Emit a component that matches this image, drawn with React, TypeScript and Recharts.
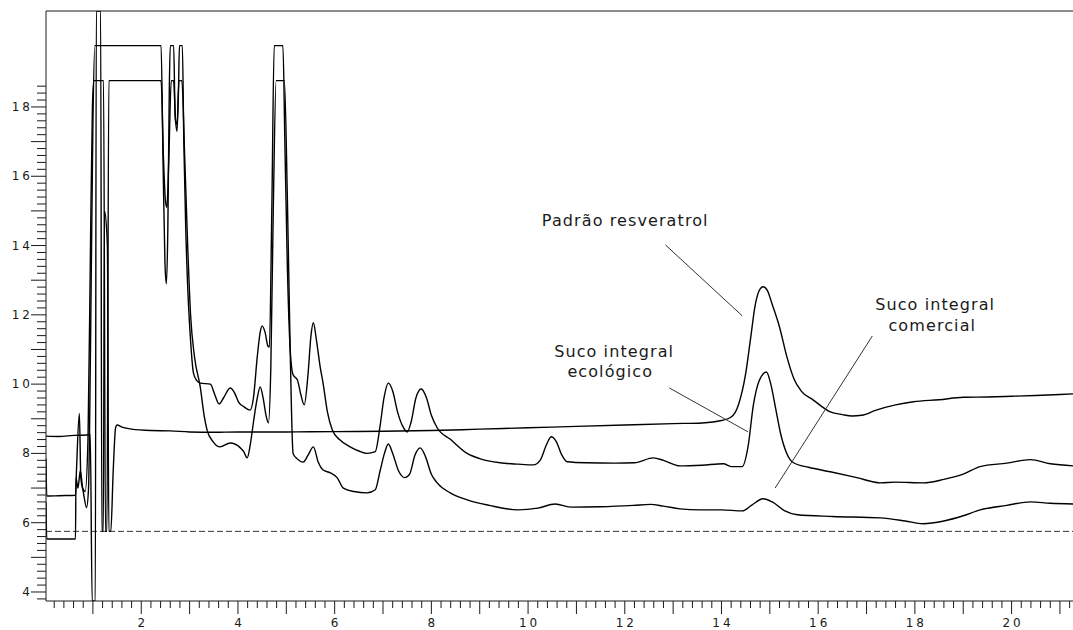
import { LineChart, Line, XAxis, YAxis, ReferenceLine, ReferenceDot } from "recharts"

// retention time (min) vs signal
const padrao: [number, number][] = [
    [0.03, 8.5], [0.3, 8.49], [0.6, 8.52], [0.9, 8.53], [0.945, 8.55],
    [0.985, 3.74], [1.05, 3.74], [1.07, 20.77], [1.16, 20.77], [1.185, 5.75],
    [1.215, 5.75], [1.24, 15.0], [1.3, 14.0], [1.33, 5.75], [1.37, 5.75],
    [1.42, 7.5], [1.47, 8.75], [1.5, 8.82], [1.6, 8.76], [1.8, 8.7],
    [2.2, 8.66], [2.6, 8.65], [3.0, 8.62], [3.5, 8.61], [4.0, 8.62],
    [5.0, 8.62], [6.0, 8.63], [7.0, 8.64], [8.0, 8.66], [9.0, 8.7],
    [10.0, 8.74], [11.0, 8.78], [12.0, 8.82], [13.0, 8.86], [13.6, 8.88],
    [14.0, 8.95], [14.2, 9.05], [14.35, 9.4], [14.5, 10.3], [14.6, 11.3],
    [14.7, 12.3], [14.8, 12.75], [14.86, 12.81], [14.95, 12.7], [15.05, 12.3],
    [15.2, 11.65], [15.35, 10.8], [15.5, 10.15], [15.65, 9.8], [15.9, 9.54],
    [16.25, 9.2], [16.5, 9.12], [16.7, 9.08], [16.9, 9.1], [17.2, 9.25],
    [17.6, 9.4], [17.97, 9.49], [18.5, 9.55], [19.0, 9.62], [19.5, 9.63],
    [20.0, 9.65], [20.5, 9.67], [21.0, 9.7], [21.27, 9.72],
]

const ecologico: [number, number][] = [
    [0.03, 7.85], [0.045, 6.77], [0.3, 6.78], [0.64, 6.79], [0.66, 7.5],
    [0.72, 9.15], [0.75, 7.3], [0.8, 6.9], [0.87, 6.44], [0.91, 7.0],
    [0.95, 11.0], [1.0, 17.5], [1.04, 19.77], [2.41, 19.77], [2.45, 16.5],
    [2.49, 13.5], [2.52, 12.9], [2.55, 14.5], [2.58, 18.5], [2.6, 19.77],
    [2.67, 19.77], [2.7, 17.8], [2.74, 17.3], [2.77, 18.5], [2.79, 19.77],
    [2.85, 19.77], [2.88, 17.0], [2.92, 14.5], [2.97, 12.5], [3.01, 11.48],
    [3.08, 10.32], [3.15, 10.1], [3.22, 10.03], [3.43, 10.0], [3.52, 9.7],
    [3.61, 9.43], [3.7, 9.6], [3.84, 9.89], [3.93, 9.75], [4.01, 9.49],
    [4.12, 9.35], [4.25, 9.25], [4.32, 9.6], [4.4, 10.8], [4.46, 11.5],
    [4.5, 11.68], [4.56, 11.5], [4.62, 11.1], [4.65, 11.07], [4.7, 15.0],
    [4.75, 19.77], [4.93, 19.77], [4.97, 17.0], [5.02, 13.5], [5.08, 11.0],
    [5.14, 10.27], [5.23, 10.12], [5.3, 9.7], [5.37, 9.4], [5.45, 10.3],
    [5.51, 11.4], [5.56, 11.77], [5.62, 11.3], [5.7, 10.5], [5.76, 10.03],
    [5.85, 9.2], [5.95, 8.68], [6.1, 8.4], [6.32, 8.19], [6.5, 8.07],
    [6.67, 8.0], [6.84, 8.05], [6.94, 8.8], [7.02, 9.6], [7.11, 10.03],
    [7.2, 9.8], [7.3, 9.2], [7.42, 8.75], [7.5, 8.62], [7.58, 8.9],
    [7.68, 9.6], [7.79, 9.86], [7.9, 9.6], [8.0, 9.1], [8.12, 8.74],
    [8.4, 8.4], [8.74, 8.0], [9.0, 7.85], [9.42, 7.73], [9.8, 7.69],
    [10.11, 7.67], [10.25, 7.8], [10.38, 8.25], [10.48, 8.48], [10.58, 8.35],
    [10.7, 7.95], [10.81, 7.76], [11.2, 7.73], [11.8, 7.72], [12.2, 7.73],
    [12.59, 7.87], [12.8, 7.8], [13.14, 7.64], [13.6, 7.66], [14.04, 7.7],
    [14.2, 7.62], [14.43, 7.62], [14.55, 8.2], [14.66, 9.4], [14.78, 10.1],
    [14.93, 10.35], [15.02, 10.0], [15.12, 9.3], [15.22, 8.59], [15.35, 8.0],
    [15.49, 7.73], [15.8, 7.6], [16.25, 7.47], [16.8, 7.3], [17.28, 7.15],
    [17.6, 7.17], [18.17, 7.15], [18.6, 7.25], [19.0, 7.4], [19.35, 7.62],
    [19.9, 7.72], [20.39, 7.82], [20.8, 7.7], [21.27, 7.64],
]

const comercial: [number, number][] = [
    [0.03, 6.6], [0.045, 5.53], [0.64, 5.53], [0.65, 7.3], [0.69, 7.0],
    [0.74, 7.5], [0.79, 7.0], [0.84, 6.9], [0.9, 8.5], [0.95, 14.0],
    [0.99, 18.0], [1.02, 18.76], [1.22, 18.76], [1.26, 5.75], [1.29, 5.75],
    [1.33, 18.76], [2.41, 18.76], [2.46, 16.5], [2.5, 15.3], [2.53, 15.1],
    [2.57, 16.5], [2.62, 18.76], [2.67, 18.76], [2.71, 17.6], [2.74, 17.5],
    [2.78, 18.76], [2.84, 18.76], [2.9, 16.5], [2.96, 14.0], [3.02, 12.0],
    [3.1, 10.8], [3.22, 9.92], [3.3, 9.1], [3.36, 8.68], [3.48, 8.35],
    [3.63, 8.19], [3.84, 8.3], [4.05, 8.16], [4.12, 8.05], [4.19, 7.87],
    [4.26, 8.3], [4.32, 8.9], [4.4, 9.6], [4.46, 9.92], [4.52, 9.6],
    [4.58, 9.1], [4.63, 8.88], [4.68, 10.5], [4.73, 15.0], [4.79, 18.76],
    [4.96, 18.76], [5.02, 15.5], [5.08, 11.0], [5.14, 8.0], [5.22, 7.85],
    [5.35, 7.75], [5.45, 7.95], [5.56, 8.19], [5.66, 7.75], [5.76, 7.52],
    [5.91, 7.44], [6.05, 7.3], [6.18, 7.0], [6.4, 6.9], [6.67, 6.86],
    [6.84, 6.95], [6.94, 7.5], [7.03, 8.0], [7.11, 8.27], [7.2, 8.0],
    [7.32, 7.5], [7.45, 7.3], [7.55, 7.4], [7.66, 7.95], [7.77, 8.16],
    [7.88, 7.9], [8.0, 7.4], [8.12, 7.15], [8.39, 6.86], [8.74, 6.66],
    [9.2, 6.5], [9.78, 6.37], [10.2, 6.42], [10.56, 6.54], [10.9, 6.45],
    [11.49, 6.46], [12.18, 6.5], [12.53, 6.53], [12.8, 6.48], [13.14, 6.4],
    [13.56, 6.37], [14.0, 6.37], [14.43, 6.34], [14.62, 6.5], [14.86, 6.69],
    [15.05, 6.6], [15.3, 6.35], [15.57, 6.23], [16.3, 6.18], [17.28, 6.14],
    [17.8, 6.05], [18.17, 5.97], [18.6, 6.05], [19.0, 6.2], [19.35, 6.37],
    [19.9, 6.5], [20.39, 6.6], [20.8, 6.56], [21.27, 6.54],
]

const baselineLevel = 5.75

// callouts: text anchors and leader lines, in data units
const notes = [
    { text: "Padrão resveratrol", t: 12.01, v: 14.71 },
    { text: "Suco integral", t: 11.78, v: 10.93 },
    { text: "ecológico", t: 11.7, v: 10.35 },
    { text: "Suco integral", t: 18.42, v: 12.29 },
    { text: "comercial", t: 18.36, v: 11.68 },
]
const leaders = [
    [{ x: 12.84, y: 14.02 }, { x: 14.43, y: 11.97 }],
    [{ x: 12.92, y: 9.89 }, { x: 14.55, y: 8.62 }],
    [{ x: 17.12, y: 11.39 }, { x: 15.11, y: 7.0 }],
]

const X_MIN = 0.03
const X_MAX = 21.27
const Y_MIN = 3.74
const Y_MAX = 20.77

const xTicks = Array.from({ length: 106 }, (_, i) => Math.round((i + 1) * 2) / 10)
const yTicks = Array.from({ length: 75 }, (_, i) => Math.round(38 + i * 2) / 10)

const toRows = (pts: [number, number][]) => pts.map(([t, v]) => ({ t, v }))

const INK = "#1a1a1a"
const isInt = (v: number) => Math.abs(v - Math.round(v)) < 1e-6
const isLabelled = (v: number) => isInt(v) && Math.round(v) % 2 === 0

function XTick({ x, y, payload }: any) {
    const v = payload.value
    const major = isInt(v)
    return (
        <g>
            <line x1={x} x2={x} y1={y} y2={y + (major ? 13 : 7)} stroke={INK} />
            {isLabelled(v) && (
                <text x={x + 1.5} y={y + 22} textAnchor="middle" dominantBaseline="central"
                    fontSize={12} fontFamily="DejaVu Sans" letterSpacing={3} fill={INK}>
                    {Math.round(v)}
                </text>
            )}
        </g>
    )
}

function YTick({ x, y, payload }: any) {
    const v = payload.value
    const major = isInt(v)
    return (
        <g>
            <line x1={x - (major ? 15 : 9)} x2={x} y1={y} y2={y} stroke={INK} />
            {isLabelled(v) && (
                <text x={x - 13} y={y} textAnchor="end" dominantBaseline="central"
                    fontSize={12} fontFamily="DejaVu Sans" letterSpacing={3} fill={INK}>
                    {Math.round(v)}
                </text>
            )}
        </g>
    )
}

const noteLabel = (text: string) => (props: any) => {
    const vb = props.viewBox
    return (
        <text x={vb.x + vb.width / 2} y={vb.y + vb.height / 2} textAnchor="middle"
            dominantBaseline="central" fontSize={16} fontFamily="DejaVu Sans"
            letterSpacing={1.1} fill={INK}>
            {text}
        </text>
    )
}

export default function App() {
    const lineProps = {
        type: "monotone" as const,
        dataKey: "v",
        stroke: "#000",
        strokeWidth: 1.4,
        dot: false,
        activeDot: false,
        isAnimationActive: false,
    }
    return (
        <div style={{ position: "absolute", left: 0, top: 0, background: "#fff" }}>
            <LineChart width={1073} height={630} margin={{ top: 11, right: 0, bottom: 0, left: 0 }}>
                <XAxis dataKey="t" type="number" domain={[X_MIN, X_MAX]} allowDataOverflow
                    ticks={xTicks} interval={0} tickSize={0} tickMargin={0} tickLine={false}
                    axisLine={{ stroke: INK }} height={29} tick={<XTick />} />
                <YAxis type="number" domain={[Y_MIN, Y_MAX]} allowDataOverflow
                    ticks={yTicks} interval={0} tickSize={0} tickMargin={0} tickLine={false}
                    axisLine={{ stroke: INK }} width={46} tick={<YTick />} />
                <ReferenceLine y={Y_MAX} stroke={INK} />
                <ReferenceLine y={baselineLevel} stroke="#333" strokeDasharray="6 3" />
                <Line {...lineProps} data={toRows(padrao)} name="Padrão resveratrol" />
                <Line {...lineProps} data={toRows(ecologico)} name="Suco integral ecológico" />
                <Line {...lineProps} data={toRows(comercial)} name="Suco integral comercial" />
                {leaders.map((seg, i) => (
                    <ReferenceLine key={"l" + i} segment={seg} stroke="#333" strokeWidth={1} />
                ))}
                {notes.map((n, i) => (
                    <ReferenceDot key={"n" + i} x={n.t} y={n.v} r={0} fill="none" stroke="none"
                        label={{ content: noteLabel(n.text) }} />
                ))}
            </LineChart>
        </div>
    )
}
